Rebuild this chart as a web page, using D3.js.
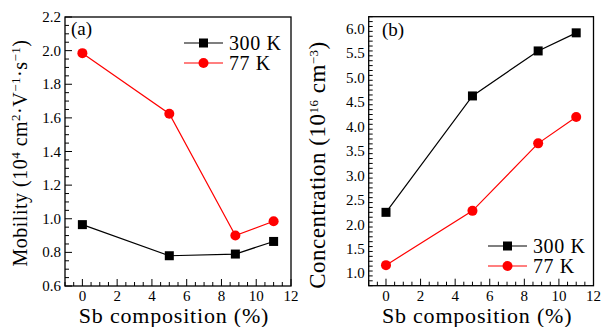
<!DOCTYPE html>
<html>
<head>
<meta charset="utf-8">
<script src="https://cdn.jsdelivr.net/npm/d3@7"></script>
<style>
  body { margin: 0; background: #fff; }
</style>
</head>
<body>
<div id="chart"></div>
<script>
// data
var composition = [0, 5, 8.8, 11];
var mobility300 = [0.965, 0.78, 0.79, 0.865];
var mobility77 = [1.985, 1.625, 0.90, 0.985];
var conc300 = [2.25, 4.63, 5.55, 5.92];
var conc77 = [1.17, 2.28, 3.66, 4.20];
var xTicks = [0, 2, 4, 6, 8, 10, 12];
var mobTicks = [0.6, 0.8, 1.0, 1.2, 1.4, 1.6, 1.8, 2.0, 2.2];
var concTicks = [1.0, 1.5, 2.0, 2.5, 3.0, 3.5, 4.0, 4.5, 5.0, 5.5, 6.0];
var seriesNames = ["300 K", "77 K"];

var svg = d3.select("#chart").append("svg")
  .attr("width", 602).attr("height", 327)
  .attr("font-family", "'Liberation Serif', serif");

function panel(opt) {
  var g = svg.append("g");
  var x = d3.scaleLinear().domain([-1, 12]).range([opt.left, opt.right]);
  var y = d3.scaleLinear().domain(opt.ydomain).range([opt.bottom, opt.top]);

  // minor + major ticks, inward, left and bottom only
  var xMinor = d3.range(-1, 12.001, 0.5);
  g.selectAll(".xt").data(xMinor).enter().append("line")
    .attr("x1", function (d) { return x(d); }).attr("x2", function (d) { return x(d); })
    .attr("y1", opt.bottom)
    .attr("y2", function (d) { return opt.bottom - (xTicks.indexOf(d) >= 0 ? 7 : 4); })
    .attr("stroke", "#000").attr("stroke-width", 1);

  var yMinor = d3.range(opt.ydomain[0], opt.ydomain[1] + 1e-6, opt.minorStep);
  g.selectAll(".yt").data(yMinor).enter().append("line")
    .attr("y1", function (d) { return y(d); }).attr("y2", function (d) { return y(d); })
    .attr("x1", opt.left)
    .attr("x2", function (d) {
      var major = opt.yticks.some(function (t) { return Math.abs(t - d) < 1e-6; });
      return opt.left + (major ? 7 : 4);
    })
    .attr("stroke", "#000").attr("stroke-width", 1);

  g.append("rect")
    .attr("x", opt.left).attr("y", opt.top)
    .attr("width", opt.right - opt.left).attr("height", opt.bottom - opt.top)
    .attr("fill", "none").attr("stroke", "#000").attr("stroke-width", 1.3);

  g.selectAll(".xl").data(xTicks).enter().append("text")
    .attr("x", function (d) { return x(d); }).attr("y", opt.bottom + 15)
    .attr("text-anchor", "middle").attr("font-size", 15)
    .text(function (d) { return d; });

  g.selectAll(".yl").data(opt.yticks).enter().append("text")
    .attr("x", opt.left - 4).attr("y", function (d) { return y(d) + 5; })
    .attr("text-anchor", "end").attr("font-size", 15)
    .text(function (d) { return d.toFixed(1); });

  g.append("text")
    .attr("x", (opt.left + opt.right) / 2 - 4).attr("y", 323)
    .attr("text-anchor", "middle").attr("font-size", 22)
    .attr("letter-spacing", 0.8)
    .text("Sb composition (%)");

  var yl = g.append("text")
    .attr("transform", "translate(" + opt.ylabelX + "," + opt.ylabelY + ") rotate(-90)")
    .attr("text-anchor", "middle").attr("font-size", opt.ylabelSize)
    .attr("letter-spacing", 0.5);
  opt.ylabel.forEach(function (p) {
    var t = yl.append("tspan").text(p[0]);
    if (p[1]) t.attr("baseline-shift", "super").attr("font-size", 13);
  });

  g.append("text")
    .attr("x", opt.tagX).attr("y", opt.tagY)
    .attr("font-size", 19).text(opt.tag);

  var line = d3.line()
    .x(function (d, i) { return x(composition[i]); })
    .y(function (d) { return y(d); });

  var colors = ["#000", "#ff0000"];
  [opt.s300, opt.s77].forEach(function (s, k) {
    g.append("path").datum(s).attr("d", line)
      .attr("fill", "none").attr("stroke", colors[k]).attr("stroke-width", 1.2);
  });

  g.selectAll(".sq").data(opt.s300).enter().append("rect")
    .attr("x", function (d, i) { return x(composition[i]) - 4.5; })
    .attr("y", function (d) { return y(d) - 4.5; })
    .attr("width", 9).attr("height", 9).attr("fill", "#000");
  g.selectAll(".ci").data(opt.s77).enter().append("circle")
    .attr("cx", function (d, i) { return x(composition[i]); })
    .attr("cy", function (d) { return y(d); })
    .attr("r", 5).attr("fill", "#ff0000");

  // legend
  seriesNames.forEach(function (name, k) {
    var ly = opt.legY + k * 20;
    g.append("line").attr("x1", opt.legX).attr("x2", opt.legX + 39)
      .attr("y1", ly).attr("y2", ly)
      .attr("stroke", colors[k]).attr("stroke-width", 1.2);
    if (k === 0) {
      g.append("rect").attr("x", opt.legX + 15).attr("y", ly - 4.5)
        .attr("width", 9).attr("height", 9).attr("fill", "#000");
    } else {
      g.append("circle").attr("cx", opt.legX + 19.5).attr("cy", ly)
        .attr("r", 5).attr("fill", "#ff0000");
    }
    g.append("text").attr("x", opt.legX + 45).attr("y", ly + 7)
      .attr("font-size", 20).attr("letter-spacing", 0.6).text(name);
  });
}

panel({
  left: 65, right: 291, top: 17, bottom: 286,
  ydomain: [0.6, 2.2], yticks: mobTicks, minorStep: 0.05,
  s300: mobility300, s77: mobility77,
  ylabel: [["Mobility (10"], ["4", 1], [" cm"], ["2", 1], ["·V"], ["−1", 1], ["·s"], ["−1", 1], [")"]],
  ylabelX: 27, ylabelY: 153, ylabelSize: 20,
  tag: "(a)", tagX: 71, tagY: 35,
  legX: 184, legY: 43
});

panel({
  left: 368.7, right: 593.5, top: 16.7, bottom: 285.7,
  ydomain: [0.75, 6.25], yticks: concTicks, minorStep: 0.1,
  s300: conc300, s77: conc77,
  ylabel: [["Concentration (10"], ["16", 1], [" cm"], ["−3", 1], [")"]],
  ylabelX: 325, ylabelY: 165, ylabelSize: 23,
  tag: "(b)", tagX: 382, tagY: 36,
  legX: 488, legY: 246
});
</script>
</body>
</html>
